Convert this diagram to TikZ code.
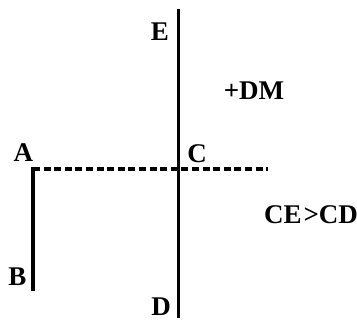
\documentclass[tikz,border=0pt]{standalone}
\usepackage{fontspec}
\setmainfont{Liberation Serif}
\begin{document}
\begin{tikzpicture}[x=1pt,y=-1pt,
  lbl/.style={inner sep=0pt,font=\fontsize{27}{27}\selectfont\bfseries},
  solidline/.style={line width=3.6pt},
  dashline/.style={line width=3.6pt,dash pattern=on 7pt off 3.6pt}]
\useasboundingbox (0,0) rectangle (357,320);
% points
\coordinate (Etop) at (178.5,9);
\coordinate (Dbot) at (178.5,318);
\coordinate (Cpt) at (178.5,169);
\coordinate (Apt) at (33,169);
\coordinate (Atop) at (33,167.2);
\coordinate (Bpt) at (33,291);
\coordinate (Rend) at (268,169);
% lines
\draw[solidline] (Etop) -- (Dbot);
\draw[solidline] (Atop) -- (Bpt);
\draw[dashline] (Apt) -- (Rend);
% labels
\node[lbl] (E) at (160,31.7) {E};
\node[lbl] (D) at (161,306.5) {D};
\node[lbl] (C) at (197,154) {C};
\node[lbl] (A) at (23.3,153) {A};
\node[lbl] (B) at (17.5,276.7) {B};
\node[lbl] (DM) at (254,91) {+DM};
\node[lbl] (CECD) at (311,215) {\spaceskip=2pt CE >CD};
\end{tikzpicture}
\end{document}
